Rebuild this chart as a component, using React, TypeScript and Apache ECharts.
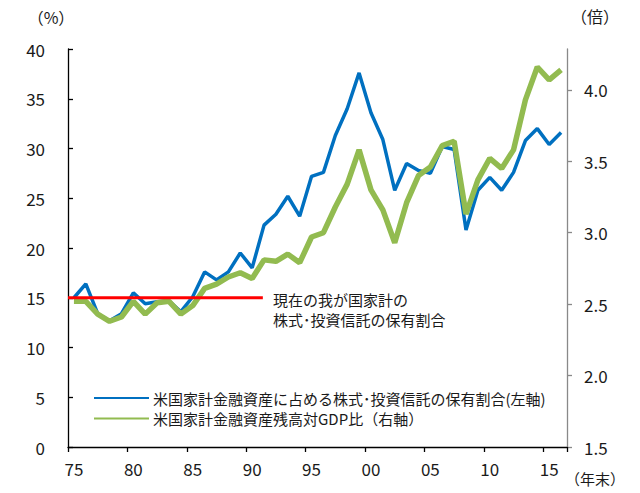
import React, { useEffect, useRef } from "react";
import * as echarts from "echarts";

const years = [
  "1975", "1976", "1977", "1978", "1979", "1980", "1981", "1982", "1983", "1984",
  "1985", "1986", "1987", "1988", "1989", "1990", "1991", "1992", "1993", "1994",
  "1995", "1996", "1997", "1998", "1999", "2000", "2001", "2002", "2003", "2004",
  "2005", "2006", "2007", "2008", "2009", "2010", "2011", "2012", "2013", "2014",
  "2015", "2016",
];

// 米国家計金融資産に占める株式・投資信託の保有割合 (%) — left axis
const equityShare = [
  15.0, 16.4, 13.4, 12.7, 13.4, 15.5, 14.4, 14.6, 14.7, 13.6,
  15.1, 17.6, 16.8, 17.6, 19.5, 18.0, 22.3, 23.4, 25.2, 23.2,
  27.2, 27.6, 31.3, 34.0, 37.6, 33.6, 30.9, 25.8, 28.5, 27.8,
  27.5, 30.2, 29.9, 21.8, 25.8, 27.1, 25.8, 27.6, 30.8, 32.0,
  30.4, 31.6,
];

// 米国家計金融資産残高対GDP比 (倍) — right axis
const assetsToGdp = [
  2.52, 2.52, 2.43, 2.38, 2.41, 2.52, 2.43, 2.51, 2.52, 2.43,
  2.49, 2.61, 2.64, 2.69, 2.72, 2.68, 2.81, 2.80, 2.85, 2.79,
  2.97, 3.00, 3.18, 3.34, 3.58, 3.30, 3.16, 2.93, 3.21, 3.40,
  3.46, 3.61, 3.64, 3.13, 3.37, 3.52, 3.45, 3.58, 3.93, 4.16,
  4.07, 4.14,
];

// 現在の我が国家計の株式・投資信託の保有割合 (%) reference line, from start of axis to ~1991
const japanShareLine = [
  [1974.5, 15],
  [1990.9, 15],
];

const leftTicks = [0, 5, 10, 15, 20, 25, 30, 35, 40];
const rightTicks = [1.5, 2.0, 2.5, 3.0, 3.5, 4.0];

const seriesNames = [
  "米国家計金融資産に占める株式･投資信託の保有割合(左軸)",
  "米国家計金融資産残高対GDP比（右軸）",
];

const FONT = "'Noto Sans CJK JP', 'Noto Sans', sans-serif";

export default function App() {
  const ref = useRef<HTMLDivElement>(null);

  useEffect(() => {
    if (!ref.current) return;
    const chart = echarts.init(ref.current, null, { renderer: "svg" });
    const labelColor = "#1a1a1a";
    chart.setOption({
      animation: false,
      textStyle: { fontFamily: FONT },
      grid: { left: 68, right: 73, top: 49, bottom: 46, containLabel: false },
      legend: {
        orient: "vertical",
        left: 88,
        top: 385,
        itemWidth: 55,
        itemHeight: 16,
        itemGap: 4.5,
        data: seriesNames,
        itemStyle: { opacity: 0 },
        textStyle: { fontSize: 15, lineHeight: 16, color: labelColor, fontFamily: FONT, padding: [0, 0, 0, -1] },
      },
      xAxis: [
        {
          type: "category",
          data: years,
          boundaryGap: true,
          axisLine: { lineStyle: { color: "#000", width: 1.3 } },
          axisTick: { show: true, interval: 4, length: 5, lineStyle: { color: "#000", width: 1.3 } },
          axisLabel: {
            interval: 4,
            margin: 13,
            fontSize: 17,
            color: labelColor,
            fontFamily: FONT,
            formatter: (v: string) => v.slice(2),
          },
          splitLine: { show: false },
        },
        {
          type: "value",
          min: 1974.5,
          max: 2016.5,
          show: false,
          position: "bottom",
        },
      ],
      yAxis: [
        {
          type: "value",
          min: 0,
          max: 40,
          interval: 5,
          axisLine: { show: true, lineStyle: { color: "#000", width: 1.3 } },
          axisTick: { show: true, inside: true, length: 5, lineStyle: { color: "#000", width: 1.3 } },
          axisLabel: { margin: 23, fontSize: 17, color: labelColor, fontFamily: FONT, customValues: leftTicks },
          splitLine: { show: false },
        },
        {
          type: "value",
          min: 1.5,
          max: 4.286,
          interval: 0.5,
          position: "right",
          axisLine: { show: true, lineStyle: { color: "#898989", width: 1.3 } },
          axisTick: {
            show: true,
            inside: false,
            length: 5,
            lineStyle: { color: "#898989", width: 1.3 },
            customValues: rightTicks,
          },
          axisLabel: {
            margin: 17,
            fontSize: 17,
            color: labelColor,
            fontFamily: FONT,
            customValues: rightTicks,
            formatter: (v: number) => v.toFixed(1),
          },
          splitLine: { show: false },
        },
      ],
      series: [
        {
          name: seriesNames[0],
          type: "line",
          xAxisIndex: 0,
          yAxisIndex: 0,
          data: equityShare,
          symbol: "none",
          lineStyle: { color: "#0070C0", width: 3.5 },
          itemStyle: { color: "#0070C0" },
          z: 2,
        },
        {
          name: seriesNames[1],
          type: "line",
          xAxisIndex: 0,
          yAxisIndex: 1,
          data: assetsToGdp,
          symbol: "none",
          lineStyle: { color: "#92BB50", width: 5.5 },
          itemStyle: { color: "#92BB50" },
          z: 3,
        },
        {
          name: "japan",
          type: "line",
          xAxisIndex: 1,
          yAxisIndex: 0,
          data: japanShareLine,
          symbol: "none",
          lineStyle: { color: "#FF0000", width: 3 },
          itemStyle: { color: "#FF0000" },
          z: 4,
        },
      ],
      graphic: [
        {
          type: "text",
          x: 51,
          y: 17,
          style: { text: "（%）", font: `16px ${FONT}`, fill: labelColor, textAlign: "center", textVerticalAlign: "middle" },
        },
        {
          type: "text",
          x: 595,
          y: 16,
          style: { text: "（倍）", font: `16px ${FONT}`, fill: labelColor, textAlign: "center", textVerticalAlign: "middle" },
        },
        {
          type: "text",
          x: 595,
          y: 478,
          style: { text: "（年末）", font: `15px ${FONT}`, fill: labelColor, textAlign: "center", textVerticalAlign: "middle" },
        },
        {
          type: "text",
          x: 273,
          y: 299,
          style: { text: "現在の我が国家計の", font: `15px ${FONT}`, fill: labelColor, textAlign: "left", textVerticalAlign: "middle" },
        },
        {
          type: "text",
          x: 273,
          y: 319,
          style: { text: "株式･投資信託の保有割合", font: `15px ${FONT}`, fill: labelColor, textAlign: "left", textVerticalAlign: "middle" },
        },
      ],
    });
    return () => chart.dispose();
  }, []);

  return (
    <div
      ref={ref}
      style={{ position: "absolute", left: 0, top: 0, width: 640, height: 493, background: "#fff" }}
    />
  );
}
